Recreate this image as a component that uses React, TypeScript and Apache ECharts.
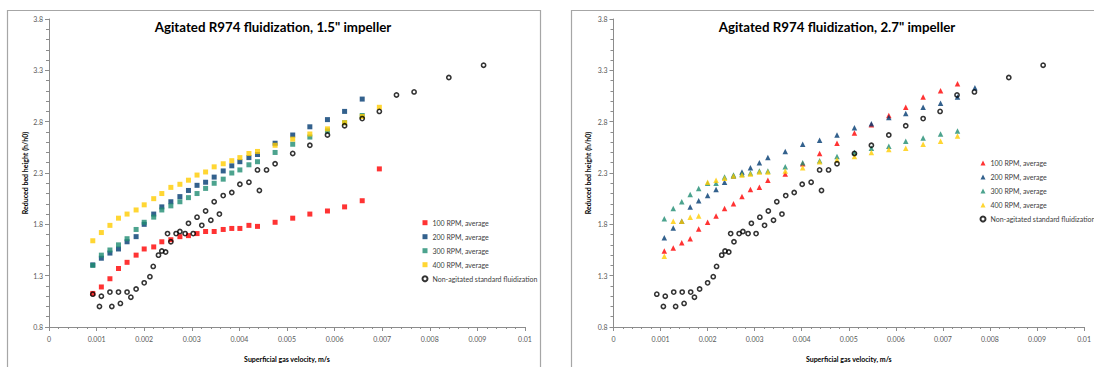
import React, { useEffect, useRef } from 'react';
import * as echarts from 'echarts';

// ---------- DATA ----------
const seriesNames = ['100 RPM, average', '200 RPM, average', '300 RPM, average', '400 RPM, average', 'Non-agitated standard fluidization'];
const titleLeft = 'Agitated R974 fluidization, 1.5" impeller';
const titleRight = 'Agitated R974 fluidization, 2.7" impeller';
const xAxisName = 'Superficial gas velocity, m/s';
const yAxisName = 'Reduced bed height (h/h0)';

// 1.5" impeller (left)
const xLeft = [0.00092, 0.0011, 0.00128, 0.00146, 0.00164, 0.00183, 0.002, 0.0022, 0.00237, 0.00256, 0.00275, 0.00293, 0.00311, 0.00329, 0.00347, 0.00366, 0.00384, 0.00401, 0.0042, 0.00438, 0.00475, 0.00512, 0.00548, 0.00585, 0.00621, 0.00658, 0.00694];
const rpm100Left = [1.127, 1.19, 1.27, 1.37, 1.43, 1.5, 1.56, 1.58, 1.63, 1.65, 1.68, 1.69, 1.71, 1.73, 1.73, 1.75, 1.76, 1.76, 1.79, 1.78, 1.82, 1.86, 1.9, 1.93, 1.97, 2.03, 2.34];
const rpm200Left = [1.405, 1.47, 1.52, 1.56, 1.63, 1.68, 1.8, 1.9, 1.97, 2.02, 2.07, 2.13, 2.18, 2.21, 2.26, 2.32, 2.37, 2.41, 2.45, 2.48, 2.59, 2.67, 2.75, 2.82, 2.9, 3.02];
const rpm300Left = [1.4, 1.5, 1.55, 1.6, 1.66, 1.75, 1.82, 1.87, 1.94, 1.98, 2.02, 2.06, 2.1, 2.15, 2.2, 2.24, 2.3, 2.33, 2.38, 2.41, 2.5, 2.58, 2.65, 2.71, 2.79, 2.86];
const rpm400Left = [1.64, 1.72, 1.79, 1.86, 1.9, 1.94, 1.99, 2.05, 2.1, 2.16, 2.19, 2.23, 2.28, 2.31, 2.36, 2.39, 2.42, 2.45, 2.49, 2.51, 2.57, 2.63, 2.68, 2.73, 2.79, 2.85, 2.94];

// 2.7" impeller (right)
const xRight = [0.00108, 0.00127, 0.00145, 0.00163, 0.00181, 0.002, 0.00218, 0.00236, 0.00255, 0.00273, 0.00291, 0.0031, 0.00328, 0.00365, 0.00402, 0.00438, 0.00475, 0.00512, 0.00548, 0.00585, 0.00621, 0.00658, 0.00695, 0.00731, 0.00768];
const rpm100Right = [1.54, 1.57, 1.62, 1.66, 1.755, 1.82, 1.88, 1.955, 2.0, 2.07, 2.14, 2.16, 2.23, 2.29, 2.39, 2.49, 2.59, 2.69, 2.77, 2.86, 2.94, 3.04, 3.1, 3.17];
const rpm200Right = [1.67, 1.765, 1.83, 1.97, 2.03, 2.08, 2.14, 2.21, 2.27, 2.31, 2.35, 2.4, 2.45, 2.51, 2.58, 2.62, 2.67, 2.74, 2.78, 2.84, 2.88, 2.94, 2.98, 3.04, 3.13];
const rpm300Right = [1.855, 1.955, 2.02, 2.09, 2.15, 2.2, 2.2, 2.26, 2.28, 2.29, 2.3, 2.32, 2.32, 2.36, 2.4, 2.42, 2.46, 2.5, 2.54, 2.56, 2.61, 2.64, 2.68, 2.71];
const rpm400Right = [1.49, 1.83, 1.83, 1.87, 1.88, 2.21, 2.23, 2.25, 2.27, 2.28, 2.29, 2.31, 2.31, 2.32, 2.35, 2.41, 2.43, 2.46, 2.5, 2.53, 2.54, 2.58, 2.61, 2.66];

// Non-agitated standard fluidization (same in both panels)
const nonAgitatedX = [0.00092, 0.00106, 0.0011, 0.00128, 0.00132, 0.00146, 0.0015, 0.00164, 0.00172, 0.00183, 0.002, 0.00212, 0.00219, 0.0023, 0.00237, 0.00245, 0.00249, 0.00256, 0.00267, 0.00275, 0.00286, 0.00293, 0.00303, 0.00311, 0.00321, 0.00329, 0.0034, 0.00347, 0.00358, 0.00366, 0.00384, 0.00401, 0.0042, 0.00438, 0.00442, 0.00457, 0.00475, 0.00512, 0.00548, 0.00585, 0.00621, 0.00658, 0.00694, 0.0073, 0.00767, 0.0084, 0.00913];
const nonAgitatedY = [1.12, 1.0, 1.1, 1.14, 1.0, 1.14, 1.03, 1.14, 1.09, 1.17, 1.23, 1.29, 1.39, 1.5, 1.54, 1.53, 1.71, 1.63, 1.71, 1.73, 1.71, 1.81, 1.71, 1.87, 1.79, 1.93, 1.84, 2.02, 1.9, 2.08, 2.11, 2.19, 2.21, 2.33, 2.13, 2.33, 2.39, 2.49, 2.57, 2.67, 2.76, 2.83, 2.9, 3.06, 3.09, 3.23, 3.35];

// axis ranges
const xMin = 0, xMax = 0.01, xStep = 0.001;
const yMin = 0.8, yMax = 3.8, yStep = 0.5;

const colors = ['#ff0000', '#003a70', '#1f8c72', '#ffcc00'];

const zip = (xs: number[], ys: number[]) => ys.map((y, i) => [xs[i], y]);

const FONT = 'Lato, "Liberation Sans", sans-serif';
const AXIS_COLOR = '#8c8c8c';

function makeXAxis(gridIndex: number) {
  return {
    type: 'value', gridIndex, min: xMin, max: xMax, interval: xStep,
    name: xAxisName, nameLocation: 'middle', nameGap: 28,
    nameTextStyle: { fontFamily: FONT, fontWeight: 'bold', fontSize: 7, color: '#000' },
    axisLine: { show: true, onZero: false, lineStyle: { color: AXIS_COLOR, width: 1 } },
    axisTick: { show: true, length: 4, lineStyle: { color: AXIS_COLOR } },
    minorTick: { show: true, splitNumber: 5, length: 2, lineStyle: { color: AXIS_COLOR } },
    axisLabel: {
      fontFamily: FONT, fontSize: 7, color: '#595959', margin: 8,
      formatter: (v: number) => (v === 0 ? '0' : String(parseFloat(v.toFixed(4)))),
    },
    splitLine: { show: false },
  };
}

function makeYAxis(gridIndex: number) {
  return {
    type: 'value', gridIndex, min: yMin, max: yMax, interval: yStep,
    name: yAxisName, nameLocation: 'middle', nameGap: 21, nameRotate: 90,
    nameTextStyle: { fontFamily: FONT, fontWeight: 'bold', fontSize: 7, color: '#000' },
    axisLine: { show: true, onZero: false, lineStyle: { color: AXIS_COLOR, width: 1 } },
    axisTick: { show: true, length: 4, lineStyle: { color: AXIS_COLOR } },
    minorTick: { show: true, splitNumber: 5, length: 3, lineStyle: { color: AXIS_COLOR } },
    axisLabel: { fontFamily: FONT, fontSize: 7, color: '#595959', margin: 6, formatter: (v: number) => v.toFixed(1) },
    splitLine: { show: false },
  };
}

function agitatedSeries(gi: number, symbol: string, ys: number[][], size: number) {
  return ys.map((d, k) => ({
    type: 'scatter', name: seriesNames[k], xAxisIndex: gi, yAxisIndex: gi,
    data: d, symbol, symbolSize: size,
    itemStyle: { color: colors[k] },
  }));
}

function naSeries(gi: number) {
  return {
    type: 'scatter', name: seriesNames[4], xAxisIndex: gi, yAxisIndex: gi,
    data: zip(nonAgitatedX, nonAgitatedY), symbol: 'circle', symbolSize: 4.2,
    itemStyle: { color: 'rgba(255,255,255,0)', borderColor: '#000', borderWidth: 1.6 },
  };
}

function makeLegend(left: number, top: number, icon: string) {
  return {
    left, top, orient: 'vertical', itemWidth: 5, itemHeight: 5, itemGap: 6, itemTextGap: 2,
    padding: 0,
    selectedMode: false,
    textStyle: { fontFamily: FONT, fontSize: 7, color: '#404040', lineHeight: 8 },
    data: seriesNames.map((n, i) => ({ name: n, icon: i < 4 ? icon : 'circle' })),
  };
}

export default function App() {
  const ref = useRef<HTMLDivElement>(null);
  useEffect(() => {
    if (!ref.current) return;
    const chart = echarts.init(ref.current, undefined, { renderer: 'svg' });
    const option = {
      animation: false,
      backgroundColor: '#ffffff',
      grid: [
        { left: 49, top: 19, width: 476, height: 309.5 },
        { left: 613.5, top: 19, width: 474, height: 309.5 },
      ],
      xAxis: [makeXAxis(0), makeXAxis(1)],
      yAxis: [makeYAxis(0), { ...makeYAxis(1), nameGap: 22 }],
      legend: [makeLegend(421.5, 218.7, 'rect'), makeLegend(979.5, 159, 'triangle')],
      graphic: [
        { type: 'rect', silent: true, z: -1, shape: { x: 7.5, y: 10.5, width: 533, height: 400 }, style: { fill: 'none', stroke: '#a6a6a6', lineWidth: 1.2 } },
        { type: 'rect', silent: true, z: -1, shape: { x: 571.5, y: 10.5, width: 600, height: 400 }, style: { fill: 'none', stroke: '#a6a6a6', lineWidth: 1.2 } },
        { type: 'text', x: 273, y: 27, style: { text: titleLeft, align: 'center', verticalAlign: 'middle', fontFamily: FONT, fontWeight: 'bold', fontSize: 13.3, fill: '#000' } },
        { type: 'text', x: 837, y: 27, style: { text: titleRight, align: 'center', verticalAlign: 'middle', fontFamily: FONT, fontWeight: 'bold', fontSize: 13.3, fill: '#000' } },
      ],
      series: [
        ...agitatedSeries(0, 'rect', [zip(xLeft, rpm100Left), zip(xLeft, rpm200Left), zip(xLeft, rpm300Left), zip(xLeft, rpm400Left)], 5),
        naSeries(0),
        ...agitatedSeries(1, 'triangle', [zip(xRight, rpm100Right), zip(xRight, rpm200Right), zip(xRight, rpm300Right), zip(xRight, rpm400Right)], 5.5),
        naSeries(1),
      ],
    };
    chart.setOption(option as any);
    return () => chart.dispose();
  }, []);
  return <div ref={ref} style={{ position: 'fixed', left: 0, top: 0, width: 1094, height: 367, background: '#fff' }} />;
}
